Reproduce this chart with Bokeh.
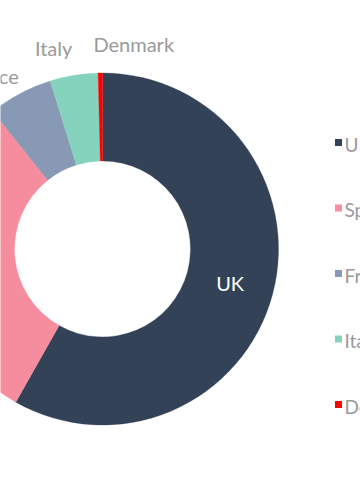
import numpy as np
from bokeh.plotting import figure
from bokeh.models import ColumnDataSource, Range1d
from bokeh.core.properties import value
from bokeh.embed import file_html
from bokeh.resources import INLINE

countries = ["UK", "Spain", "France", "Italy", "Denmark"]
shares = [58.2, 31.1, 5.9, 4.4, 0.4]
colors = ["#344257", "#f68d9e", "#8899b5", "#86d3bd", "#ff0000"]

W, H = 360, 500
CX, CY = 102, H - 248.5
R_IN, R_OUT = 88, 176
FONT = value("Lato")

p = figure(width=W, height=H, output_backend="svg", toolbar_location=None,
           x_range=Range1d(0, W), y_range=Range1d(0, H), min_border=0)
p.axis.visible = False
p.grid.visible = False
p.outline_line_color = None
p.background_fill_color = "white"
p.border_fill_color = "white"

vals = np.array(shares, dtype=float)
frac = vals / vals.sum()
cum = np.concatenate([[0], np.cumsum(frac)])
start = np.pi / 2 - 2 * np.pi * cum[:-1]
end = np.pi / 2 - 2 * np.pi * cum[1:]
mid = (start + end) / 2

src = ColumnDataSource(dict(x=[CX] * len(countries), y=[CY] * len(countries),
                            start=start, end=end, color=colors, name=countries))
p.annular_wedge(x="x", y="y", inner_radius=R_IN, outer_radius=R_OUT,
                start_angle="start", end_angle="end", direction="clock",
                fill_color="color", line_color="color", line_width=0.3, source=src)

# inside labels for big slices, outside labels (spread apart) for small ones
big = frac > 0.5
in_x = CX + (R_IN + R_OUT) / 2 * np.cos(mid[big])
in_y = CY + (R_IN + R_OUT) / 2 * np.sin(mid[big])
p.text(x=in_x, y=in_y, text=[c for c, b in zip(countries, big) if b],
       text_color="white", text_font=FONT, text_font_size="20px",
       text_align="center", text_baseline="middle")

# spread outside label angles so they don't collide
small_idx = [i for i in range(len(countries)) if frac[i] < 0.1]
spread = {2: np.deg2rad(5.2), 3: np.deg2rad(4.3), 4: np.deg2rad(-9.4)}
R_LAB = 207
ox, oy, ot = [], [], []
for i in small_idx:
    a = mid[i] + spread.get(i, 0)
    ox.append(CX + R_LAB * np.cos(a))
    oy.append(CY + R_LAB * np.sin(a))
    ot.append(countries[i])
p.text(x=ox, y=oy, text=ot, text_color="#9a9a9a", text_font=FONT,
       text_font_size="20px", text_align="center", text_baseline="middle")

# legend (manual, cropped at right edge like reference)
LX, LY0, LDY = 338, H - 142, 65.5
ly = [LY0 - i * LDY for i in range(len(countries))]
p.rect(x=[LX] * len(countries), y=ly, width=7, height=7, fill_color=colors,
       line_color=None)
p.text(x=[LX + 6] * len(countries), y=[v - 1.5 for v in ly], text=countries,
       text_color="#9a9a9a", text_font=FONT, text_font_size="19px",
       text_align="left", text_baseline="middle")

open("out.html", "w").write(file_html(p, INLINE))
